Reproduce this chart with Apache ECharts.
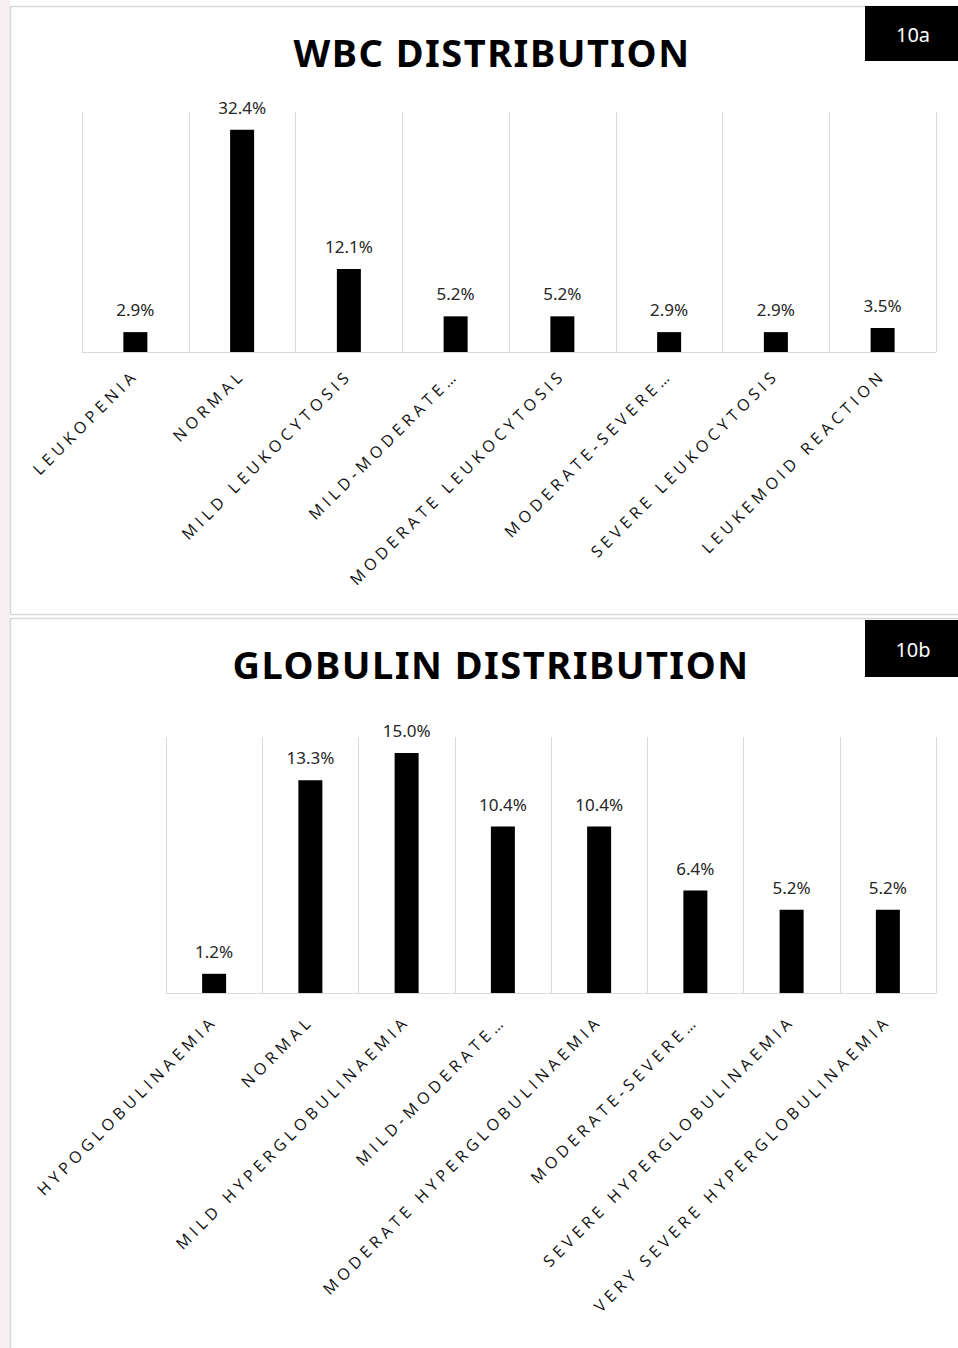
<!DOCTYPE html>
<html>
<head>
<meta charset="utf-8">
<script src="https://cdn.jsdelivr.net/npm/echarts@6/dist/echarts.min.js"></script>
<style>
  html, body { margin: 0; padding: 0; background: #ffffff; }
  #chart { width: 958px; height: 1348px; }
  text[style*="Open Sans"] { letter-spacing: 4.5px; }
  text[style*="38px"] { letter-spacing: 1.5px; }
</style>
</head>
<body>
<div id="chart"></div>
<script>
// ---- Data ----
const wbcTitle = 'WBC DISTRIBUTION';
const wbcTag = '10a';
const wbcCategories = ['LEUKOPENIA', 'NORMAL', 'MILD LEUKOCYTOSIS', 'MILD-MODERATE…', 'MODERATE LEUKOCYTOSIS', 'MODERATE-SEVERE…', 'SEVERE LEUKOCYTOSIS', 'LEUKEMOID REACTION'];
const wbcValues = [2.9, 32.4, 12.1, 5.2, 5.2, 2.9, 2.9, 3.5];

const globTitle = 'GLOBULIN DISTRIBUTION';
const globTag = '10b';
const globCategories = ['HYPOGLOBULINAEMIA', 'NORMAL', 'MILD HYPERGLOBULINAEMIA', 'MILD-MODERATE…', 'MODERATE HYPERGLOBULINAEMIA', 'MODERATE-SEVERE…', 'SEVERE HYPERGLOBULINAEMIA', 'VERY SEVERE HYPERGLOBULINAEMIA'];
const globValues = [1.2, 13.3, 15.0, 10.4, 10.4, 6.4, 5.2, 5.2];

const chart = echarts.init(document.getElementById('chart'), null, { renderer: 'svg' });

const gridLine = '#d9d9d9';
function xAxisFor(gridIndex, cats, margin) {
  return {
    type: 'category', gridIndex: gridIndex, data: cats, boundaryGap: true,
    axisLine: { show: true, lineStyle: { color: gridLine, width: 1 } },
    axisTick: { show: false },
    splitLine: { show: true, lineStyle: { color: gridLine, width: 1 } },
    axisLabel: { interval: 0, rotate: 45, margin: margin, color: '#111', fontFamily: 'Open Sans', fontSize: 16 }
  };
}
function yAxisFor(gridIndex, max) {
  return { type: 'value', gridIndex: gridIndex, min: 0, max: max, show: false, splitLine: { show: false } };
}
function barSeries(idx, values) {
  return {
    type: 'bar', xAxisIndex: idx, yAxisIndex: idx, data: values, barWidth: 24,
    itemStyle: { color: '#000000' },
    label: { show: true, position: 'top', distance: 14, color: '#262626', fontFamily: 'Noto Sans', fontSize: 17,
      formatter: p => p.value.toFixed(1) + '%' },
    silent: true
  };
}

chart.setOption({
  animation: false,
  backgroundColor: '#ffffff',
  title: [
    { text: wbcTitle, left: 487, top: 28, textAlign: 'center',
      textStyle: { fontFamily: 'Noto Sans', fontWeight: 'bold', fontSize: 38, color: '#000' } },
    { text: globTitle, left: 486, top: 640, textAlign: 'center',
      textStyle: { fontFamily: 'Noto Sans', fontWeight: 'bold', fontSize: 38, color: '#000' } }
  ],
  grid: [
    { left: 82, top: 112, width: 854, height: 240 },
    { left: 166, top: 737, width: 770, height: 256 }
  ],
  xAxis: [xAxisFor(0, wbcCategories, 20), xAxisFor(1, globCategories, 25)],
  yAxis: [yAxisFor(0, 35), yAxisFor(1, 16)],
  series: [barSeries(0, wbcValues), barSeries(1, globValues)],
  graphic: [
    { type: 'rect', z: -10, shape: { x: 0, y: 0, width: 10, height: 1348 }, style: { fill: '#f6eff1' } },
    { type: 'rect', z: -5, shape: { x: 10.5, y: 6.5, width: 960, height: 608 }, style: { fill: '#fff', stroke: '#d9d9d9', lineWidth: 1.5 } },
    { type: 'rect', z: -5, shape: { x: 10.5, y: 618.5, width: 960, height: 740 }, style: { fill: '#fff', stroke: '#d9d9d9', lineWidth: 1.5 } },
    { type: 'rect', shape: { x: 865, y: 6, width: 93, height: 55 }, style: { fill: '#000' } },
    { type: 'text', x: 913, y: 34, style: { text: wbcTag, fill: '#fff', fontFamily: 'Noto Sans', fontSize: 20, align: 'center', verticalAlign: 'middle' } },
    { type: 'rect', shape: { x: 865, y: 620, width: 93, height: 57 }, style: { fill: '#000' } },
    { type: 'text', x: 913, y: 649, style: { text: globTag, fill: '#fff', fontFamily: 'Noto Sans', fontSize: 20, align: 'center', verticalAlign: 'middle' } }
  ]
});
</script>
</body>
</html>
